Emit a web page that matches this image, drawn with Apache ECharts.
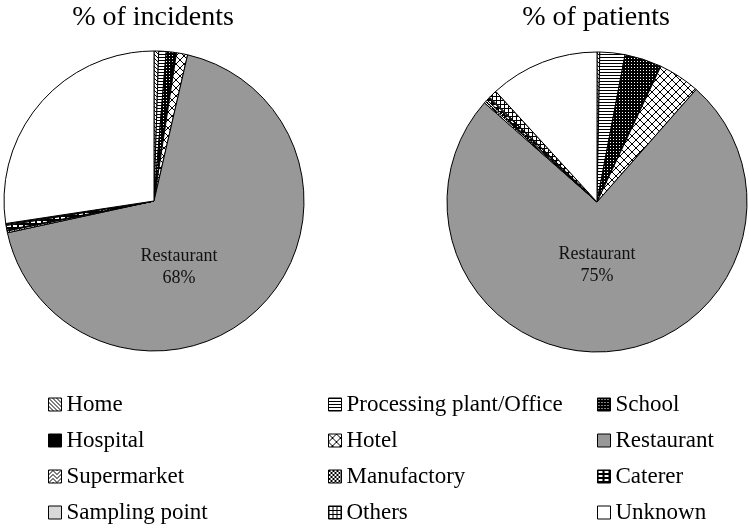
<!DOCTYPE html>
<html>
<head>
<meta charset="utf-8">
<script src="https://cdn.jsdelivr.net/npm/echarts@6/dist/echarts.min.js"></script>
<style>
html,body{margin:0;padding:0;background:#fff;}
#chart{width:749px;height:529px;}
</style>
</head>
<body>
<div id="chart"></div>
<script>
// ---- data ----
const categories = ['Home','Processing plant/Office','School','Hospital','Hotel','Restaurant','Supermarket','Manufactory','Caterer','Sampling point','Others','Unknown'];
const incidentsPct = [0.5, 0.8, 0.9, 0.2, 1.2, 68.0, 0.2, 0.1, 0.5, 0.1, 0.1, 27.4];
const patientsPct  = [0.3, 2.7, 3.9, 0.1, 4.5, 75.0, 0.2, 0.2, 0.3, 0.1, 0.9, 11.8];
const pieTitles = ['% of incidents', '% of patients'];
const legendColumns = [
  ['Home','Hospital','Supermarket','Sampling point'],
  ['Processing plant/Office','Hotel','Manufactory','Others'],
  ['School','Restaurant','Caterer','Unknown']
];
const labelledCategory = 'Restaurant';

// ---- styles (patterns) ----
function tile(w, h, bg, draw) {
  const c = document.createElement('canvas');
  c.width = w; c.height = h;
  const ctx = c.getContext('2d');
  ctx.fillStyle = bg; ctx.fillRect(0, 0, w, h);
  ctx.fillStyle = bg === '#000' ? '#fff' : '#000';
  draw(ctx, w, h);
  return { image: c, repeat: 'repeat' };
}
const fills = {
  'Home': tile(4, 4, '#fff', (x) => { for (let i = 0; i < 4; i++) x.fillRect(i, i, 1, 1); }),
  'Processing plant/Office': tile(1, 3, '#fff', (x) => { x.fillRect(0, 0, 1, 1); }),
  'School': tile(3, 3, '#000', (x) => { x.fillRect(1, 1, 1, 1); }),
  'Hospital': '#000',
  'Hotel': tile(8, 8, '#fff', (x) => { for (let i = 0; i < 8; i++) { x.fillRect(i, i, 1, 1); x.fillRect(i, 7 - i, 1, 1); } }),
  'Restaurant': '#989898',
  'Supermarket': tile(8, 4, '#fff', (x) => { for (let i = 0; i < 8; i++) x.fillRect(i, Math.abs(i - 4) % 4, 1, 1); }),
  'Manufactory': tile(4, 4, '#fff', (x) => { x.fillRect(0, 0, 2, 2); x.fillRect(2, 2, 2, 2); }),
  'Caterer': tile(6, 4, '#000', (x) => { x.fillRect(1, 1, 4, 2); }),
  'Sampling point': '#d9d9d9',
  'Others': tile(4, 4, '#fff', (x) => { x.fillRect(0, 0, 4, 1); x.fillRect(0, 0, 1, 4); }),
  'Unknown': '#fff'
};

const serif = 'Liberation Serif';
const pieCenters = [[154, 201], [597, 202]];
const labelOffsets = [[25, 66], [0, 63]];

function makeSeries(idx, values) {
  return {
    type: 'pie',
    name: pieTitles[idx],
    center: pieCenters[idx],
    radius: [0, 150],
    startAngle: 90,
    clockwise: true,
    avoidLabelOverlap: false,
    percentPrecision: 0,
    silent: true,
    emphasis: { disabled: true },
    itemStyle: { borderColor: '#000', borderWidth: 1 },
    label: {
      show: true, position: 'inside',
      formatter: (p) => p.name === labelledCategory ? p.name + '\n' + Math.round(p.percent) + '%' : '',
      fontFamily: serif, fontSize: 18, lineHeight: 22, color: '#111', align: 'center'
    },
    labelLine: { show: false },
    labelLayout: function () {
      return { x: pieCenters[idx][0] + labelOffsets[idx][0], y: pieCenters[idx][1] + labelOffsets[idx][1], align: 'center', verticalAlign: 'middle' };
    },
    data: categories.map((c, i) => ({ name: c, value: values[i], itemStyle: { color: fills[c] } }))
  };
}

const legendLefts = [48, 328, 597];
const option = {
  animation: false,
  backgroundColor: '#fff',
  textStyle: { fontFamily: serif },
  title: pieTitles.map((t, i) => ({
    text: t, left: pieCenters[i][0] - 1, top: 4, textAlign: 'center', padding: 0,
    textStyle: { fontFamily: serif, fontSize: 28, fontWeight: 'normal', color: '#000' }
  })),
  legend: legendColumns.map((col, i) => ({
    data: col, orient: 'vertical', left: legendLefts[i], top: 393, padding: 0,
    itemWidth: 13, itemHeight: 13, itemGap: 13, icon: 'rect', selectedMode: false,
    itemStyle: { borderColor: '#000', borderWidth: 1 },
    textStyle: { fontFamily: serif, fontSize: 23, lineHeight: 23, color: '#000' }
  })),
  series: [makeSeries(0, incidentsPct), makeSeries(1, patientsPct)]
};

const chart = echarts.init(document.getElementById('chart'), null, { renderer: 'canvas' });
chart.setOption(option);
</script>
</body>
</html>
